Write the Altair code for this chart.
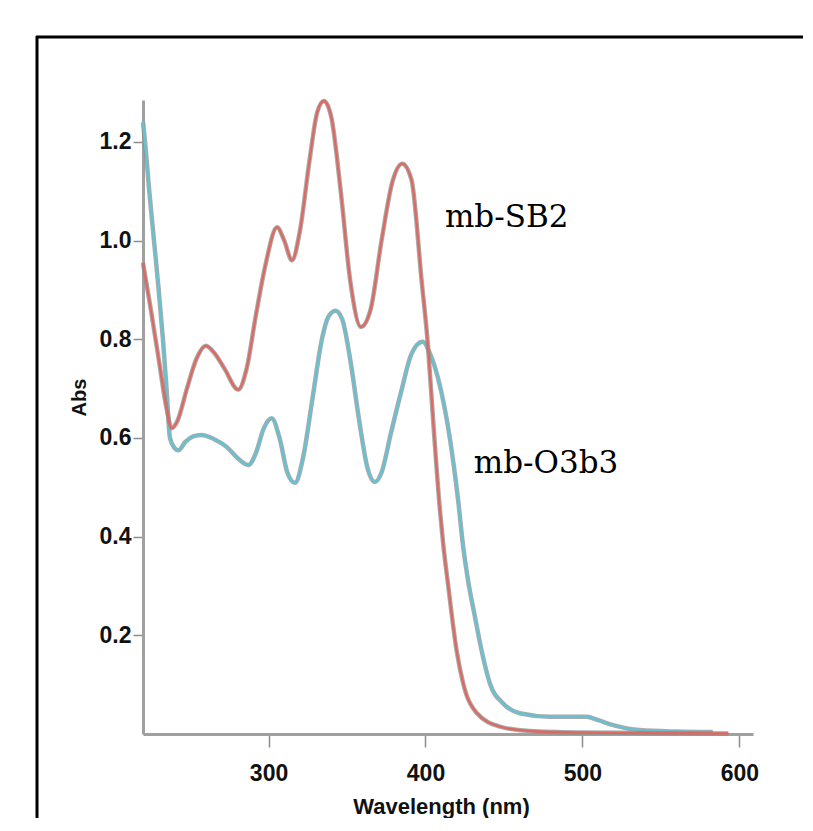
import altair as alt
import pandas as pd

# mb-SB2 (red) spectrum: wavelength (nm), absorbance
sb2_wl = [220, 225, 230, 235, 238.3, 242, 248, 254, 260, 266, 272, 280.7, 286, 292, 298,
          305.4, 310, 314.9, 320, 326, 331, 335.3, 340, 346, 352, 358.9, 365, 372, 379,
          385.2, 391.1, 397.5, 401.5, 405, 409.2, 411.3, 414.5, 419.8, 424, 432.5, 447.4,
          466.5, 500, 540, 593]
sb2_abs = [0.955, 0.86, 0.76, 0.66, 0.62, 0.635, 0.70, 0.76, 0.787, 0.77, 0.74, 0.698, 0.74,
           0.85, 0.95, 1.027, 1.0, 0.96, 1.02, 1.16, 1.26, 1.283, 1.25, 1.10, 0.92, 0.825,
           0.86, 1.00, 1.12, 1.156, 1.123, 0.92, 0.79, 0.63, 0.454, 0.385, 0.30, 0.170,
           0.103, 0.043, 0.015, 0.006, 0.003, 0.002, 0.001]

# mb-O3b3 (teal) spectrum
o3_wl = [220, 221.3, 224, 227, 230, 232.7, 235, 237.2, 240, 242.5, 247, 252, 257.4, 265,
         273.3, 280, 287.1, 292, 297, 302, 307, 312, 316.8, 322, 328, 334, 338, 342.7, 347,
         352, 358, 363, 367.8, 372, 378, 385, 391, 398.2, 403, 408.1, 415.5, 420.8, 424,
         427.2, 431.5, 435.7, 441, 449.5, 460.1, 479.2, 502.6, 510, 519.6, 536.6, 560, 583]
o3_abs = [1.24, 1.2, 1.10, 1.0, 0.90, 0.80, 0.70, 0.60, 0.58, 0.575, 0.592, 0.603, 0.606,
          0.598, 0.582, 0.56, 0.545, 0.57, 0.62, 0.64, 0.60, 0.53, 0.509, 0.56, 0.68, 0.80,
          0.845, 0.858, 0.84, 0.76, 0.63, 0.54, 0.511, 0.53, 0.61, 0.70, 0.77, 0.795, 0.77,
          0.72, 0.60, 0.474, 0.38, 0.31, 0.238, 0.170, 0.103, 0.062, 0.042, 0.035,
          0.035, 0.028, 0.018, 0.008, 0.005, 0.004]

labels = ["mb-SB2", "mb-O3b3"]
label_wl = [412.4, 430.8]
label_abs = [1.028, 0.528]

x_ticks = [300, 400, 500, 600]
y_ticks = [0.2, 0.4, 0.6, 0.8, 1.0, 1.2]

sb2 = pd.DataFrame({"wl": sb2_wl, "abs": sb2_abs})
o3 = pd.DataFrame({"wl": o3_wl, "abs": o3_abs})
lab = pd.DataFrame({"text": labels, "wl": label_wl, "abs": label_abs})

LABEL_FONT = "Liberation Sans, Arial, sans-serif"

xs = alt.Scale(domain=[220, 608.7], nice=False, zero=False)
ys = alt.Scale(domain=[0, 1.285], nice=False, zero=False)

X = alt.X("wl:Q", scale=xs, axis=alt.Axis(
    values=x_ticks, title="Wavelength (nm)", grid=False, format="d",
    domainColor="#a0a0a0", domainWidth=3, tickColor="#8c8c8c", tickWidth=1.5, tickSize=13,
    labelFont=LABEL_FONT, labelFontSize=23, labelFontWeight="bold", labelColor="#111111",
    labelBaseline="alphabetic", labelPadding=33,
    titleFont=LABEL_FONT, titleFontSize=22, titleFontWeight="bold", titleColor="#111111",
    titleX=298, titleY=79, titleBaseline="alphabetic", titleAlign="center"))
Y = alt.Y("abs:Q", scale=ys, axis=alt.Axis(
    values=y_ticks, title="Abs", grid=False, format=".1f",
    domainColor="#a0a0a0", domainWidth=3, tickColor="#8c8c8c", tickWidth=1.5, tickSize=10,
    labelFont=LABEL_FONT, labelFontSize=23, labelFontWeight="bold", labelColor="#111111",
    labelPadding=2,
    titleFont=LABEL_FONT, titleFontSize=20, titleFontWeight="bold", titleColor="#111111",
    titleAngle=270, titleX=-64, titleY=297, titleAlign="center", titleBaseline="middle"))

frame_df = pd.DataFrame({"a": [0]})
frame_top = alt.Chart(frame_df).mark_rule(color="black", strokeWidth=3).encode(
    x=alt.value(-107), x2=alt.value(1500), y=alt.value(-63))
frame_left = alt.Chart(frame_df).mark_rule(color="black", strokeWidth=3).encode(
    x=alt.value(-106), y=alt.value(-64), y2=alt.value(1500))

def spectrum(df, color):
    under = alt.Chart(df).mark_line(color="#8e8e8e", strokeWidth=4.5, opacity=0.75,
                                    interpolate="monotone").encode(x=X, y=Y)
    top = alt.Chart(df).mark_line(color=color, strokeWidth=2.4,
                                  interpolate="monotone").encode(x=X, y=Y)
    return under + top

text = alt.Chart(lab).mark_text(font="DejaVu Serif", fontSize=31, align="left",
                                baseline="alphabetic", color="black").encode(
    x=alt.X("wl:Q", scale=xs), y=alt.Y("abs:Q", scale=ys), text="text:N")

chart = alt.layer(
    frame_top,
    frame_left,
    spectrum(o3, "#66c2d2"),
    spectrum(sb2, "#dc6a63"),
    text,
).properties(
    width=610, height=634,
    autosize=alt.AutoSizeParams(type="none"),
    padding={"left": 135, "top": 92, "right": 50, "bottom": 84},
).configure_view(stroke=None)

chart.save("out.html", embed_options={"renderer": "svg", "actions": False})
